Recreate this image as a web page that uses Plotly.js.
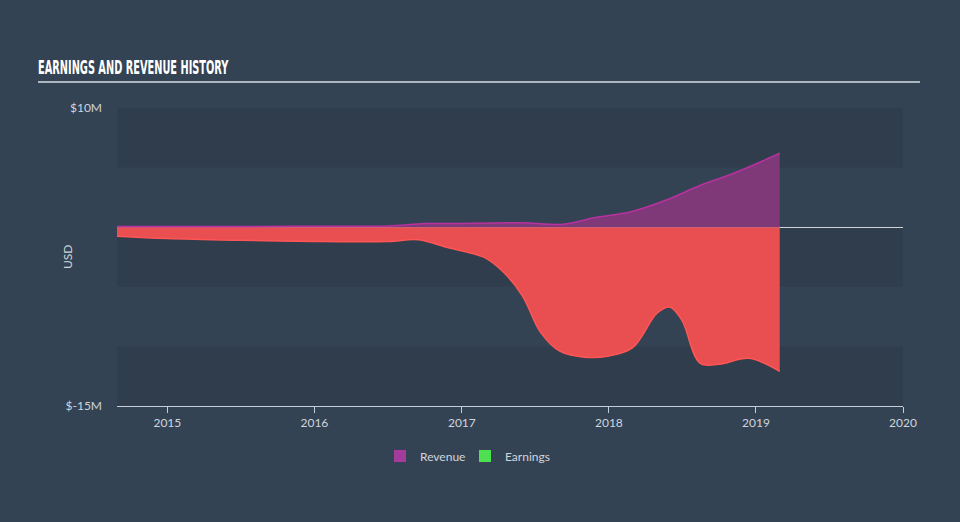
<!DOCTYPE html>
<html>
<head>
<meta charset="utf-8">
<script src="https://cdn.plot.ly/plotly-3.0.1.min.js"></script>
<style>
html,body{margin:0;padding:0;background:#344354;}
#chart{width:960px;height:522px;}
</style>
</head>
<body>
<div id="chart"></div>
<script>
const revenueDates = ['2014-08-29','2015-07-01','2016-01-01','2016-07-01','2016-10-01','2017-01-01','2017-04-01','2017-06-01','2017-09-10','2017-11-25','2018-02-25','2018-05-25','2018-08-15','2018-11-05','2019-03-01'];
const revenueValues = [0.05,0.05,0.08,0.1,0.3,0.32,0.35,0.38,0.25,0.8,1.3,2.3,3.5,4.5,6.2];

const earningsDates = ['2014-08-29','2015-01-01','2015-07-01','2016-01-01','2016-07-01','2016-09-15','2016-12-01','2017-01-15','2017-03-01','2017-04-15','2017-06-01','2017-07-15','2017-09-01','2017-11-01','2018-01-01','2018-03-01','2018-05-01','2018-06-01','2018-07-01','2018-08-15','2018-10-01','2018-12-15','2019-03-01'];
const earningsValues = [-0.75,-0.95,-1.1,-1.2,-1.2,-1.05,-1.75,-2.1,-2.6,-3.8,-5.8,-8.8,-10.4,-10.9,-10.8,-10.1,-7.2,-6.7,-7.8,-11.4,-11.5,-11.0,-12.1];

const yTickVals = [10, -15];
const yTickText = ['$10M', '$-15M'];
const legendNames = ['Revenue', 'Earnings'];
const legendColors = ['#a33a9c', '#4fe04f'];

const toUSD = a => a.map(v => v * 1e6);

const traces = [
  {
    x: earningsDates, y: toUSD(earningsValues), type: 'scatter', mode: 'lines',
    line: {shape: 'spline', color: '#ff5555', width: 1.5},
    fill: 'tozeroy', fillcolor: '#e94f51', showlegend: false, hoverinfo: 'skip'
  },
  {
    x: revenueDates, y: toUSD(revenueValues), type: 'scatter', mode: 'lines',
    line: {shape: 'spline', color: '#b8329f', width: 1.5},
    fill: 'tozeroy', fillcolor: 'rgba(132,56,122,0.95)', showlegend: false, hoverinfo: 'skip'
  },
  {x: [null], y: [null], type: 'bar', name: legendNames[0], marker: {color: legendColors[0]}},
  {x: [null], y: [null], type: 'bar', name: legendNames[1], marker: {color: legendColors[1]}}
];

const bandColor = '#303d4c';
const bands = [[5, 10], [-5, 0], [-15, -10]].map(b => ({
  type: 'rect', xref: 'paper', yref: 'y', x0: 0, x1: 1, y0: b[0] * 1e6, y1: b[1] * 1e6,
  fillcolor: bandColor, line: {width: 0}, layer: 'below'
}));

const layout = {
  width: 960, height: 522,
  margin: {l: 117, r: 57, t: 108, b: 116},
  paper_bgcolor: '#344354', plot_bgcolor: '#344354',
  font: {family: 'Lato, sans-serif', color: '#cfd5dc', size: 12},
  title: {
    text: 'EARNINGS AND REVENUE HISTORY',
    font: {family: '"DejaVu Sans Condensed", sans-serif', weight: 700, size: 19, color: '#ffffff'},
    xref: 'container', yref: 'container', x: 38/960, xanchor: 'left', y: 1 - 67/522, yanchor: 'middle'
  },
  xaxis: {
    type: 'date', range: ['2014-08-29', '2020-01-01'],
    tickvals: ['2015-01-01','2016-01-01','2017-01-01','2018-01-01','2019-01-01','2020-01-01'],
    ticktext: ['2015','2016','2017','2018','2019','2020'],
    showgrid: false, zeroline: false, showline: true, linecolor: '#c5ced8', linewidth: 1,
    ticks: 'outside', ticklen: 6, tickcolor: '#c5ced8', tickfont: {size: 12, color: '#cfd5dc'},
    fixedrange: true
  },
  yaxis: {
    range: [-15e6, 10e6], tickvals: yTickVals.map(v => v * 1e6), ticktext: yTickText,
    showgrid: false, zeroline: true, zerolinecolor: '#d0d3d6', zerolinewidth: 1,
    showline: false, ticks: '', ticklabelstandoff: 14,
    tickfont: {size: 12, color: '#cfd5dc'}, fixedrange: true
  },
  shapes: bands.concat([{
    type: 'line', xref: 'paper', yref: 'paper',
    x0: (38 - 117) / 786, x1: (920 - 117) / 786, y0: (406 - 82) / 298, y1: (406 - 82) / 298,
    line: {color: '#aeb6bf', width: 2}
  }]),
  annotations: [{
    text: 'USD', xref: 'paper', yref: 'paper', x: (67 - 117) / 786, xanchor: 'center', y: 0.5,
    textangle: -90, showarrow: false, font: {size: 12, color: '#cfd5dc'}
  }],
  showlegend: true,
  legend: {
    orientation: 'h', x: (465 - 117) / 786, xanchor: 'center', y: -50/298, yanchor: 'middle',
    itemwidth: 30, entrywidth: 40, entrywidthmode: 'pixels',
    bgcolor: 'rgba(0,0,0,0)', font: {size: 12, color: '#cfd5dc'}
  },
  barmode: 'overlay'
};

Plotly.newPlot('chart', traces, layout, {displayModeBar: false, staticPlot: true}).then(gd => {
  const t = gd.querySelector('.gtitle');
  if (t) {
    const box = t.getBBox();
    const sx = 191 / box.width;
    t.setAttribute('transform', 'translate(38,0) scale(' + sx + ',1) translate(-38,0)');
  }
});
</script>
</body>
</html>
